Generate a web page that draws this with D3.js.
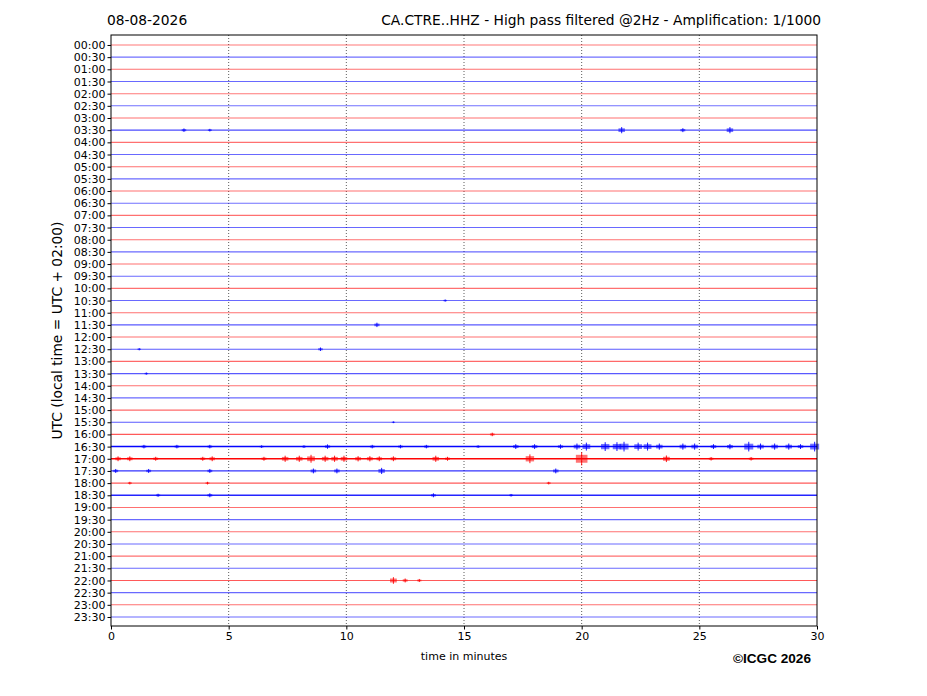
<!DOCTYPE html>
<html>
<head>
<meta charset="utf-8">
<style>
  body { margin: 0; background: #fff; }
  text { font-family: "DejaVu Sans", sans-serif; }
</style>
</head>
<body>
<script src="https://d3js.org/d3.v7.min.js"></script>
<script>
// helicorder rows, one every 30 minutes
var rowLabels = ["00:00","00:30","01:00","01:30","02:00","02:30","03:00","03:30",
  "04:00","04:30","05:00","05:30","06:00","06:30","07:00","07:30",
  "08:00","08:30","09:00","09:30","10:00","10:30","11:00","11:30",
  "12:00","12:30","13:00","13:30","14:00","14:30","15:00","15:30",
  "16:00","16:30","17:00","17:30","18:00","18:30","19:00","19:30",
  "20:00","20:30","21:00","21:30","22:00","22:30","23:00","23:30"];
var xTicks = [0, 5, 10, 15, 20, 25, 30];
var gridMinutes = [5, 10, 15, 20, 25];

// background noise level for each row (0 quiet .. 1 noisy)
var noiseLevel = [0.25,0.3,0.3,0.35,0.25,0.3,0.3,0.55,
  0.3,0.35,0.3,0.35,0.3,0.3,0.3,0.35,
  0.3,0.35,0.3,0.35,0.3,0.35,0.3,0.45,
  0.3,0.45,0.35,0.45,0.3,0.35,0.35,0.45,
  0.45,1.0,1.0,0.7,0.45,0.8,0.3,0.35,
  0.3,0.35,0.3,0.35,0.45,0.35,0.3,0.35];

// visible bursts: [row index, minute, half amplitude]
var bursts = [
  [7,3.1,0.8],[7,4.2,0.6],[7,21.7,1.4],[7,24.3,0.9],[7,26.3,1.4],
  [21,14.2,0.5],[23,11.3,1.0],[25,8.9,0.8],[25,1.2,0.5],[27,1.5,0.5],
  [32,16.2,0.8],[31,12.0,0.4],
  [33,1.4,0.8],[33,2.8,0.8],[33,4.2,0.8],[33,6.4,0.6],[33,8.2,0.6],[33,9.2,1.0],
  [33,11.1,0.8],[33,12.3,0.8],[33,13.4,0.8],[33,15.6,0.6],[33,17.2,1.1],[33,18.0,1.1],
  [33,19.1,1.0],[33,19.8,1.4],[33,20.2,1.8],[33,21.0,2.0],[33,21.5,2.0],[33,21.8,2.2],
  [33,22.4,1.8],[33,22.8,1.8],[33,23.3,1.4],[33,24.3,1.4],[33,24.8,1.4],[33,25.6,1.1],
  [33,26.3,1.2],[33,27.1,2.2],[33,27.6,1.4],[33,28.2,1.4],[33,28.8,1.4],[33,29.3,1.1],[33,29.9,2.2],
  [34,0.3,1.1],[34,0.8,1.1],[34,1.9,0.9],[34,3.9,0.9],[34,4.3,1.1],[34,6.5,0.9],
  [34,7.4,1.4],[34,8.0,1.4],[34,8.5,1.8],[34,9.1,1.4],[34,9.5,1.4],[34,9.9,1.4],
  [34,10.5,1.2],[34,11.0,1.2],[34,11.4,1.1],[34,12.0,1.1],[34,13.8,1.4],[34,14.3,0.9],
  [34,17.8,2.0],[34,20.0,3.0],[34,23.6,1.5],[34,25.5,0.8],[34,27.2,0.8],
  [35,0.2,0.9],[35,1.6,0.9],[35,4.2,0.9],[35,8.6,1.1],[35,9.6,1.1],[35,11.5,1.4],[35,18.9,1.1],
  [36,0.8,0.6],[36,4.1,0.6],[36,18.6,0.6],
  [37,2.0,0.7],[37,4.2,0.9],[37,13.7,0.9],[37,17.0,0.6],
  [44,12.0,1.5],[44,12.5,0.9],[44,13.1,0.7]
];

var width = 927, height = 696;
var margin = { left: 111, right: 110, top: 35, bottom: 70 };

var svg = d3.select("body").append("svg")
  .attr("width", width)
  .attr("height", height);

var x = d3.scaleLinear().domain([0, 30]).range([margin.left, width - margin.right]);
// row index to pixel, small padding above first and below last row
var y = d3.scaleLinear().domain([-0.82, 47.74]).range([margin.top, height - margin.bottom]);
var amp = d3.scaleLinear().domain([0, 1]).range([0, 2.2]);

function rowColor(i) { return i % 2 === 0 ? "#ff0000" : "#0000ff"; }

// vertical dotted grid
svg.append("g").selectAll("line")
  .data(gridMinutes)
  .enter().append("line")
  .attr("x1", function (d) { return x(d); })
  .attr("x2", function (d) { return x(d); })
  .attr("y1", y.range()[0])
  .attr("y2", y.range()[1])
  .attr("stroke", "#333")
  .attr("stroke-width", 0.8)
  .attr("stroke-dasharray", "1,2");

// traces
var traces = svg.append("g");
traces.selectAll("line.trace")
  .data(noiseLevel)
  .enter().append("line")
  .attr("class", "trace")
  .attr("x1", x(0))
  .attr("x2", x(30))
  .attr("y1", function (d, i) { return y(i); })
  .attr("y2", function (d, i) { return y(i); })
  .attr("stroke", function (d, i) { return rowColor(i); })
  .attr("stroke-opacity", function (d) { return 0.38 + d * 0.6; })
  .attr("stroke-width", function (d) { return 0.9 + d * 0.6; });

// bursts: a soft thickening of the trace plus a thin spike
var b = traces.selectAll("g.burst")
  .data(bursts)
  .enter().append("g")
  .attr("class", "burst");
b.append("rect")
  .attr("x", function (d) { return x(d[1]) - (1 + d[2] * 1.6); })
  .attr("y", function (d) { return y(d[0]) - amp(d[2]) * 0.6; })
  .attr("width", function (d) { return 2 * (1 + d[2] * 1.6); })
  .attr("height", function (d) { return amp(d[2]) * 1.2; })
  .attr("fill", function (d) { return rowColor(d[0]); })
  .attr("fill-opacity", 0.55);
b.append("line")
  .attr("x1", function (d) { return x(d[1]); })
  .attr("x2", function (d) { return x(d[1]); })
  .attr("y1", function (d) { return y(d[0]) - amp(d[2]); })
  .attr("y2", function (d) { return y(d[0]) + amp(d[2]); })
  .attr("stroke", function (d) { return rowColor(d[0]); })
  .attr("stroke-width", 0.9);

// axes
var yAxis = d3.axisLeft(y)
  .tickValues(d3.range(rowLabels.length))
  .tickFormat(function (i) { return rowLabels[i]; })
  .tickSizeOuter(0)
  .tickSize(3.5);
var gy = svg.append("g")
  .attr("transform", "translate(" + margin.left + ",0)")
  .call(yAxis);
gy.select(".domain").remove();
gy.selectAll("text").attr("font-size", 11).attr("fill", "#000").attr("x", -5.5).style("font-family", "DejaVu Sans");
gy.selectAll("line").attr("stroke", "#000");

var xAxis = d3.axisBottom(x).tickValues(xTicks).tickSize(3.5).tickSizeOuter(0);
var gx = svg.append("g")
  .attr("transform", "translate(0," + y.range()[1] + ")")
  .call(xAxis);
gx.select(".domain").remove();
gx.selectAll("text").attr("font-size", 11).attr("fill", "#000").attr("y", 6).style("font-family", "DejaVu Sans");
gx.selectAll("line").attr("stroke", "#000");

// frame
svg.append("rect")
  .attr("x", x(0))
  .attr("y", y.range()[0])
  .attr("width", x(30) - x(0))
  .attr("height", y.range()[1] - y.range()[0])
  .attr("fill", "none")
  .attr("stroke", "#000")
  .attr("stroke-width", 1);

// titles and labels
svg.append("text")
  .attr("x", 107).attr("y", 25)
  .attr("font-size", 13.8)
  .text("08-08-2026");
svg.append("text")
  .attr("x", 821).attr("y", 25)
  .attr("text-anchor", "end")
  .attr("font-size", 13.8)
  .text("CA.CTRE..HHZ - High pass filtered @2Hz - Amplification: 1/1000");
svg.append("text")
  .attr("transform", "translate(62," + ((y.range()[0] + y.range()[1]) / 2) + ") rotate(-90)")
  .attr("text-anchor", "middle")
  .attr("font-size", 13.8)
  .text("UTC (local time = UTC + 02:00)");
svg.append("text")
  .attr("x", (x(0) + x(30)) / 2).attr("y", 660)
  .attr("text-anchor", "middle")
  .attr("font-size", 11)
  .text("time in minutes");
svg.append("text")
  .attr("x", 811).attr("y", 663)
  .attr("text-anchor", "end")
  .attr("font-size", 13.6)
  .attr("font-weight", "bold")
  .style("font-family", "'Liberation Sans', Arial, sans-serif")
  .text("\u00a9ICGC 2026");
</script>
</body>
</html>
